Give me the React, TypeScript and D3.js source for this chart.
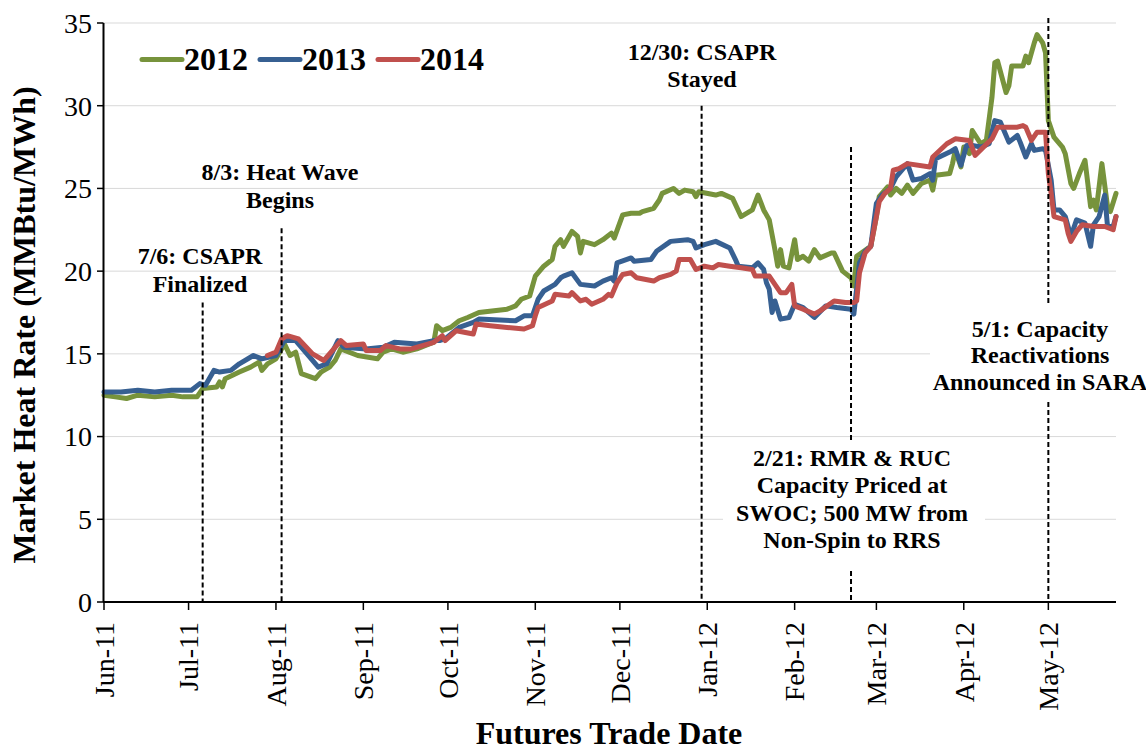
import React from 'react';
import * as d3 from 'd3';

// Futures trade date is stored as days since 1 Jun 2011
const START = new Date(2011, 5, 1);
const END = new Date(2012, 4, 25);

const yTickValues = [0, 5, 10, 15, 20, 25, 30, 35];
const seriesNames = ['2012', '2013', '2014'];
const seriesColors = ['#77933C', '#376092', '#C0504D'];

const heatRate2012: [number, number][] = [
  [0, 12.5], [4, 12.4], [8, 12.3], [12, 12.5], [18, 12.4], [24, 12.5], [28, 12.4], [33, 12.4],
  [35, 12.9], [40, 13.0], [41, 13.3], [42, 13.0], [43, 13.5], [48, 13.9], [52, 14.2], [55, 14.5],
  [56, 14.0], [58, 14.4], [61, 14.7], [64, 15.6], [66, 14.9], [68, 15.1], [70, 13.8], [75, 13.5],
  [77, 13.9], [78, 14.0], [80, 14.2], [82, 14.6], [84, 15.3], [90, 14.9], [97, 14.7], [99, 15.1],
  [102, 15.3], [106, 15.1], [111, 15.3], [117, 15.7], [118, 16.7], [120, 16.4], [123, 16.6],
  [126, 17.0], [129, 17.2], [133, 17.5], [143, 17.7], [146, 17.9], [148, 18.3], [151, 18.5],
  [153, 19.7], [156, 20.3], [159, 20.7], [160, 21.5], [162, 21.9], [163, 21.5], [166, 22.4],
  [168, 22.1], [169, 21.1], [170, 21.8], [174, 21.6], [177, 21.9], [180, 22.3], [181, 22.0],
  [184, 23.4], [187, 23.5], [190, 23.5], [191, 23.6], [195, 23.8], [197, 24.3], [198, 24.7],
  [202, 25.0], [204, 24.7], [206, 24.9], [209, 24.8], [210, 24.5], [211, 24.8], [217, 24.6],
  [219, 24.7], [223, 24.4], [226, 23.3], [230, 23.7], [232, 24.6], [234, 23.7], [236, 23.1],
  [238, 21.3], [239, 20.3], [240, 21.3], [241, 20.3], [243, 20.2], [245, 21.9], [246, 20.7],
  [248, 20.9], [250, 20.6], [252, 21.3], [254, 20.8], [258, 21.1], [259, 21.1], [262, 20.0],
  [265, 19.6], [266, 19.1], [267, 20.9], [272, 21.5], [274, 23.3], [275, 24.5], [278, 25.1],
  [279, 24.6], [281, 25.0], [283, 24.7], [285, 25.2], [287, 24.7], [290, 25.3], [293, 25.5],
  [294, 24.9], [295, 25.8], [300, 25.9], [301, 26.5], [302, 27.3], [304, 26.3], [305, 27.5],
  [307, 27.1], [308, 28.5], [311, 27.7], [313, 27.9], [315, 30.5], [316, 32.6], [317, 32.7],
  [320, 30.8], [321, 31.2], [322, 32.4], [324, 32.4], [326, 32.4], [327, 33.0], [328, 32.6],
  [330, 33.8], [331, 34.3], [333, 33.8], [334, 33.2], [335, 29.1], [337, 28.1], [340, 27.5],
  [341, 27.1], [343, 25.3], [344, 25.0], [346, 25.9], [348, 26.7], [350, 23.9], [351, 24.3],
  [352, 23.7], [354, 26.5], [356, 23.9], [357, 23.6], [359, 24.7],
];

const heatRate2013: [number, number][] = [
  [0, 12.7], [6, 12.7], [12, 12.8], [18, 12.7], [24, 12.8], [31, 12.8], [34, 13.2], [36, 13.1],
  [39, 14.0], [41, 13.9], [45, 14.0], [48, 14.4], [53, 14.9], [56, 14.7], [61, 14.9], [64, 15.8],
  [68, 15.8], [73, 14.8], [76, 14.2], [79, 14.4], [83, 15.8], [85, 15.4], [93, 15.3], [99, 15.4],
  [103, 15.7], [111, 15.6], [117, 15.8], [119, 15.8], [121, 15.9], [126, 16.6], [131, 16.9],
  [133, 17.1], [146, 17.0], [149, 17.3], [152, 17.3], [154, 18.3], [156, 18.8], [160, 19.2],
  [162, 19.6], [163, 19.7], [166, 19.9], [169, 19.2], [174, 19.1], [177, 19.4], [180, 19.6],
  [181, 19.4], [182, 20.5], [187, 20.8], [188, 20.6], [194, 20.7], [196, 21.2], [201, 21.8],
  [207, 21.9], [209, 21.8], [210, 21.4], [213, 21.6], [217, 21.8], [222, 21.4], [224, 20.7],
  [225, 20.3], [230, 20.2], [232, 20.5], [234, 20.1], [235, 19.3], [236, 18.9], [237, 17.5],
  [238, 18.2], [240, 17.1], [243, 17.2], [245, 18.0], [248, 17.8], [252, 17.2], [256, 17.9],
  [260, 17.8], [265, 17.7], [266, 17.4], [268, 20.5], [270, 21.2], [272, 21.5], [274, 24.1],
  [276, 24.6], [279, 25.0], [281, 25.7], [285, 26.5], [287, 25.5], [290, 25.6], [293, 25.9],
  [294, 25.5], [295, 26.8], [300, 27.2], [302, 27.4], [304, 26.4], [306, 27.6], [308, 27.6],
  [311, 27.5], [314, 27.7], [316, 29.1], [318, 29.0], [321, 27.8], [324, 28.2], [325, 27.8],
  [327, 26.9], [329, 27.7], [330, 27.3], [333, 27.4], [334, 27.3], [336, 25.5], [337, 23.7],
  [339, 23.7], [341, 23.3], [343, 22.1], [345, 23.1], [348, 22.9], [350, 21.5], [351, 22.8],
  [353, 23.3], [355, 24.6], [356, 22.7], [358, 22.7], [359, 23.3],
];

const heatRate2014: [number, number][] = [
  [58, 14.9], [61, 15.1], [63, 15.9], [65, 16.1], [69, 15.9], [74, 15.0], [78, 14.6], [81, 15.2],
  [84, 15.8], [86, 15.5], [92, 15.6], [93, 15.2], [98, 15.2], [100, 15.5], [105, 15.3], [109, 15.3],
  [117, 15.7], [120, 16.1], [121, 15.8], [125, 16.4], [131, 16.2], [132, 16.8], [137, 16.7],
  [143, 16.6], [149, 16.5], [152, 16.7], [153, 17.3], [154, 17.8], [159, 18.2], [160, 18.6],
  [165, 18.5], [166, 18.7], [169, 18.2], [171, 18.3], [173, 18.0], [177, 18.3], [179, 18.6],
  [180, 18.5], [182, 19.3], [184, 19.8], [187, 19.9], [189, 19.6], [195, 19.4], [197, 19.6],
  [201, 19.8], [203, 20.0], [204, 20.7], [208, 20.7], [210, 20.1], [213, 20.3], [216, 20.2],
  [218, 20.4], [222, 20.3], [226, 20.2], [230, 20.1], [231, 19.7], [236, 19.7], [238, 19.2],
  [240, 18.7], [242, 18.7], [244, 19.2], [245, 17.9], [248, 17.7], [252, 17.4], [254, 17.6],
  [259, 18.2], [263, 18.1], [266, 18.1], [267, 18.2], [268, 19.9], [270, 21.1], [272, 21.5],
  [275, 24.2], [277, 24.7], [279, 25.0], [280, 26.1], [282, 26.2], [285, 26.5], [293, 26.3],
  [294, 26.9], [299, 27.7], [302, 28.0], [307, 27.9], [309, 27.0], [315, 28.0], [317, 28.7],
  [321, 28.7], [324, 28.7], [326, 28.8], [327, 28.7], [329, 27.9], [331, 28.4], [334, 28.4],
  [335, 25.9], [336, 24.7], [337, 23.3], [341, 23.1], [342, 22.3], [343, 21.8], [345, 22.4],
  [347, 22.8], [351, 22.7], [355, 22.7], [358, 22.5], [359, 23.3],
];

const allSeries = [heatRate2012, heatRate2013, heatRate2014];

// Event markers: date, value where the dashed line starts
const eventDates = [new Date(2011, 6, 6), new Date(2011, 7, 3), new Date(2011, 11, 30), new Date(2012, 1, 21), new Date(2012, 4, 1)];
const eventLineTops = [18.1, 22.6, 30.0, 27.5, 35.3];

const FONT = "'Liberation Serif', 'Times New Roman', serif";

export default function App() {
  const W = 1146, H = 753;
  const x = d3.scaleTime().domain([START, END]).range([104, 1116]);
  const y = d3.scaleLinear().domain([0, 35]).range([602, 23]);
  const dateOf = (d: number) => d3.timeDay.offset(START, d);
  const line = d3.line<[number, number]>()
    .x(d => x(dateOf(d[0])))
    .y(d => y(d[1]));
  const months = d3.timeMonth.range(START, END);
  const fmt = d3.timeFormat('%b-%y');

  return (
    <svg width={W} height={H} style={{ position: 'absolute', left: 0, top: 0, background: '#fff' }} fontFamily={FONT}>
      <rect x={0} y={0} width={W} height={H} fill="#fff" />
      {/* gridlines */}
      {yTickValues.filter(v => v > 0).map(v => (
        <line key={v} x1={104} x2={1116} y1={y(v)} y2={y(v)} stroke="#d9d9d9" strokeWidth={1} />
      ))}
      {/* data lines */}
      {allSeries.map((s, i) => (
        <path key={i} d={line(s) || ''} fill="none" stroke={seriesColors[i]} strokeWidth={5}
          strokeLinejoin="round" strokeLinecap="round" />
      ))}
      {/* event dashed lines */}
      {eventDates.map((d, i) => (
        <line key={i} x1={x(d)} x2={x(d)} y1={y(eventLineTops[i])} y2={y(0)} stroke="#000"
          strokeWidth={2} strokeDasharray="5,3" />
      ))}
      {/* annotation boxes */}
      <rect x={723} y={440} width={262} height={128} fill="#fff" />
      <rect x={930} y={306} width={216} height={96} fill="#fff" />
      <g fontWeight="bold" fontSize={24} textAnchor="middle" fill="#000">
        <text x={200} y={264}>7/6: CSAPR</text>
        <text x={200} y={292}>Finalized</text>
        <text x={280} y={180}>8/3: Heat Wave</text>
        <text x={280} y={208}>Begins</text>
        <text x={702} y={60}>12/30: CSAPR</text>
        <text x={702} y={87}>Stayed</text>
        <text x={852} y={466}>2/21: RMR &amp; RUC</text>
        <text x={852} y={493}>Capacity Priced at</text>
        <text x={852} y={521}>SWOC; 500 MW from</text>
        <text x={852} y={548}>Non-Spin to RRS</text>
        <text x={1040} y={337}>5/1: Capacity</text>
        <text x={1040} y={363}>Reactivations</text>
        <text x={1040} y={390}>Announced in SARA</text>
      </g>
      {/* legend */}
      {seriesNames.map((n, i) => (
        <g key={n} transform={`translate(${142 + i * 118},0)`}>
          <line x1={0} x2={40} y1={59.5} y2={59.5} stroke={seriesColors[i]} strokeWidth={5} strokeLinecap="round" />
          <text x={42} y={70} fontSize={32} fontWeight="bold">{n}</text>
        </g>
      ))}
      {/* y axis */}
      <line x1={103.5} x2={103.5} y1={y(35)} y2={y(0)} stroke="#000" strokeWidth={2} />
      {yTickValues.map(v => (
        <g key={v}>
          <line x1={97} x2={103.5} y1={y(v)} y2={y(v)} stroke="#000" strokeWidth={1.5} />
          <text x={92} y={y(v)} dy="0.35em" textAnchor="end" fontSize={28}>{v}</text>
        </g>
      ))}
      {/* x axis */}
      <line x1={103} x2={1116} y1={602} y2={602} stroke="#000" strokeWidth={2} />
      {months.map(m => (
        <g key={m.getTime()}>
          <line x1={x(m)} x2={x(m)} y1={602} y2={610} stroke="#000" strokeWidth={1.5} />
          <text transform={`translate(${x(m)},622) rotate(-90)`} dy="0.35em" textAnchor="end" fontSize={28}>{fmt(m)}</text>
        </g>
      ))}
      {/* axis titles */}
      <text transform="translate(35,325) rotate(-90)" textAnchor="middle" fontSize={32} fontWeight="bold">Market Heat Rate (MMBtu/MWh)</text>
      <text x={609} y={744} textAnchor="middle" fontSize={32} fontWeight="bold">Futures Trade Date</text>
    </svg>
  );
}
